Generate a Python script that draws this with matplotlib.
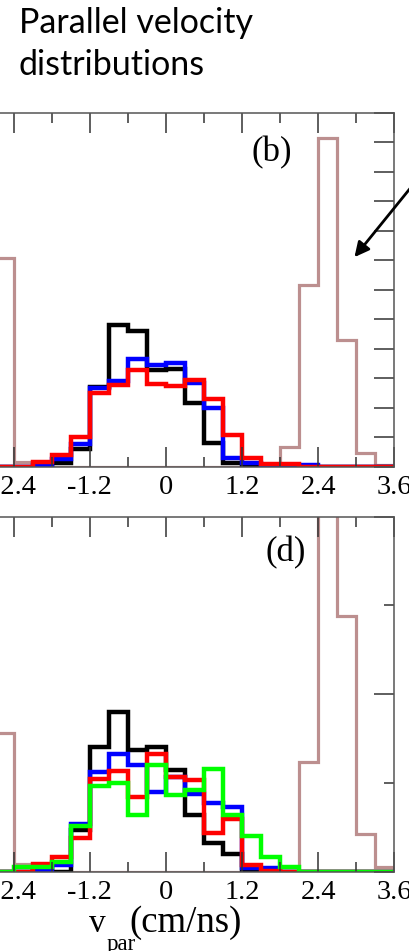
import numpy as np
import matplotlib
matplotlib.use("Agg")
import matplotlib.pyplot as plt
from matplotlib.ticker import MultipleLocator, FormatStrFormatter

plt.rcParams['font.family'] = ['Liberation Serif', 'DejaVu Serif']
plt.rcParams['axes.unicode_minus'] = False

# bin edges of the parallel velocity histograms (cm/ns)
edges = np.round(np.arange(-3.6, 3.61, 0.3), 2)

# panel (b)
brown_b = [0.0, 0.04, 1.05, 0.706, 0.015, 0.01, 0, 0, 0, 0, 0, 0,
           0, 0, 0, 0, 0, 0, 0.068, 0.616, 1.113, 0.43, 0.045, 0.006]
black_b = [0, 0, 0, 0, 0.0, 0.0, 0.014, 0.059, 0.271, 0.48, 0.461, 0.328,
           0.332, 0.215, 0.081, 0.014, 0.0, 0, 0, 0, 0, 0, 0, 0]
blue_b = [0, 0, 0, 0, 0.0, 0.006, 0.025, 0.076, 0.265, 0.29, 0.364, 0.345,
          0.35, 0.283, 0.198, 0.028, 0.014, 0.003, 0.0, 0.007, 0, 0, 0, 0]
red_b = [0, 0, 0, 0, 0.0, 0.017, 0.04, 0.102, 0.251, 0.277, 0.328, 0.279,
         0.275, 0.294, 0.229, 0.107, 0.028, 0.009, 0.009, 0, 0, 0, 0, 0]

# panel (d)
brown_d = [0.0, 0.1, 4.5, 1.56, 0.087, 0, 0, 0, 0, 0, 0, 0,
           0, 0, 0, 0, 0, 0, 0, 1.24, 5.5, 2.88, 0.43, 0.056]
black_d = [0, 0, 0, 0, 0.0, 0.04, 0.0, 0.47, 1.41, 1.80, 1.37, 1.41,
           1.15, 0.64, 0.32, 0.20, 0, 0, 0, 0, 0, 0, 0, 0]
blue_d = [0, 0, 0, 0, 0.0, 0.01, 0.075, 0.54, 1.12, 1.33, 1.20, 0.90,
          1.07, 0.88, 0.77, 0.73, 0.04, 0.04, 0, 0, 0, 0, 0, 0]
red_d = [0, 0, 0, 0, 0.0, 0.087, 0.16, 0.38, 1.04, 1.13, 0.84, 1.33,
         1.07, 1.03, 0.44, 0.59, 0.075, 0.01, 0, 0, 0, 0, 0, 0]
green_d = [0, 0, 0, 0, 0.056, 0.056, 0.11, 0.51, 0.96, 1.00, 0.64, 1.20,
           0.86, 0.92, 1.16, 0.64, 0.40, 0.17, 0.056, 0, 0, 0, 0, 0]

fig = plt.figure(figsize=(4.09, 9.51), dpi=100)

ax_b = fig.add_axes([-0.1531, 0.5093, 1.1171, 0.3722])
ax_d = fig.add_axes([-0.1531, 0.0834, 1.1171, 0.3733])


def style(ax):
    for s in ax.spines.values():
        s.set_color('#555555')
        s.set_linewidth(1.1)
    ax.set_xlim(-3.6, 3.6)
    ax.xaxis.set_major_locator(MultipleLocator(1.2))
    ax.xaxis.set_minor_locator(MultipleLocator(0.6))
    ax.xaxis.set_major_formatter(FormatStrFormatter('%g'))
    ax.tick_params(which='both', direction='in', top=True, right=True,
                   labelleft=False, color='#333333', width=1.1)
    ax.tick_params(which='major', length=14.5)
    ax.tick_params(which='minor', length=7.5)
    ax.tick_params(axis='x', labelsize=20.5, pad=6)


for vals, c, lw in [(brown_b, 'rosybrown', 2.3), (black_b, 'black', 3.2),
                    (blue_b, 'blue', 3.2), (red_b, 'red', 3.2)]:
    ax_b.stairs(vals, edges, color=c, lw=lw, baseline=0)
ax_b.set_ylim(0, 1.2)
ax_b.yaxis.set_major_locator(MultipleLocator(0.1))
ax_b.yaxis.set_minor_locator(MultipleLocator(0.1))
style(ax_b)
ax_b.text(0.732, 0.886, '(b)', transform=ax_b.transAxes, fontsize=25,
          ha='center', va='center')

for vals, c, lw in [(brown_d, 'rosybrown', 2.3), (black_d, 'black', 3.2),
                    (blue_d, 'blue', 3.2), (red_d, 'red', 3.2),
                    (green_d, '#00ff00', 3.2)]:
    ax_d.stairs(vals, edges, color=c, lw=lw, baseline=0)
ax_d.set_ylim(0, 4)
ax_d.yaxis.set_major_locator(MultipleLocator(2))
ax_d.yaxis.set_minor_locator(MultipleLocator(1))
style(ax_d)
ax_d.text(0.763, 0.898, '(d)', transform=ax_d.transAxes, fontsize=25,
          ha='center', va='center')

# axis label v_par(cm/ns), built from pieces so the subscript sits low
fig.text(97 / 409, 1 - 932 / 951, 'v', fontsize=24, ha='center', va='baseline')
fig.text(121 / 409, 1 - 950 / 951, 'par', fontsize=16.5, ha='center', va='baseline')
fig.text(129 / 409, 1 - 932 / 951, '(cm/ns)', fontsize=26.5, ha='left', va='baseline')

# slide heading
fig.text(19 / 409, 1 - 33 / 951, 'Parallel velocity', family='Lato', fontsize=24.5,
         va='baseline')
fig.text(19 / 409, 1 - 75 / 951, 'distributions', family='Lato', fontsize=24.5,
         va='baseline')

ax_b.annotate('', xy=(352.7, 951 - 259.3), xytext=(425, 951 - 170),
              xycoords='figure pixels', textcoords='figure pixels',
              arrowprops=dict(arrowstyle='-|>', color='black', lw=2,
                              mutation_scale=22),
              annotation_clip=False)

fig.savefig('out.png', dpi=100)
